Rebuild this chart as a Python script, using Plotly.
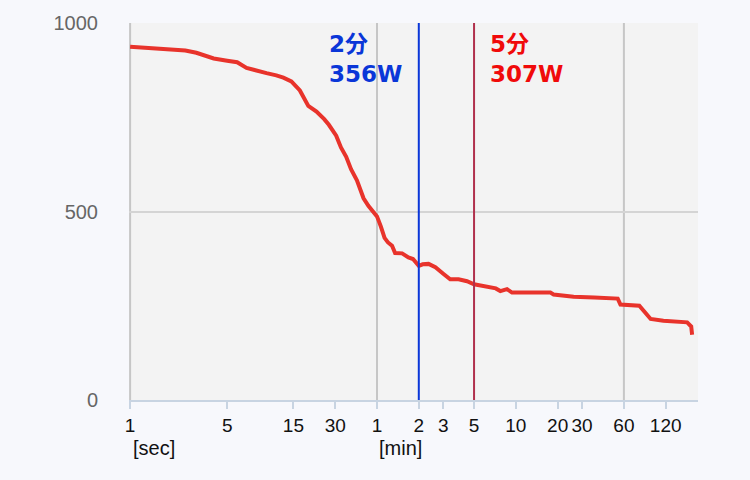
import math
import plotly.graph_objects as go

# ---- data ----
duration_sec = [1, 1.8, 2.5, 3.0, 3.5, 4.0, 5.0, 5.9, 6.9, 8.2, 9.6, 11.3, 12.7, 14.5,
                16.7, 19.2, 22, 25, 27, 30.5, 33, 36, 39, 43, 48, 52, 55, 60, 64, 68,
                72, 77, 81, 91, 101, 109, 120, 128, 141, 158, 180, 202, 232, 267, 300,
                350, 393, 430, 464, 490, 518, 563, 700, 850, 1064, 1122, 1563, 2200,
                3250, 3400, 4650, 5610, 6930, 10280, 10990, 11160]
power_w = [937, 931, 927, 921, 914, 906, 900, 896, 881, 875, 867, 861, 855, 845,
           821, 780, 765, 745, 730, 701, 670, 645, 612, 583, 535, 515, 505, 487, 460, 430,
           418, 409, 390, 389, 378, 374, 356, 360, 361, 352, 335, 320, 320, 315, 307,
           303, 299, 296, 289, 291, 294, 285, 285, 286, 285, 280, 274, 272,
           269, 253, 250, 215, 210, 206, 195, 173]

tick_vals = [1, 5, 15, 30, 60, 120, 180, 300, 600, 1200, 1800, 3600, 7200]
tick_text = ["1", "5", "15", "30", "1", "2", "3", "5", "10", "20", "30", "60", "120"]
grid_x = [1, 60, 3600]
y_ticks = [0, 500, 1000]

markers = [
    {"t": 120, "label": "2分<br>356W", "line": "#0a36d8", "text": "#0a36d8", "side": "left"},
    {"t": 300, "label": "5分<br>307W", "line": "#b0304c", "text": "#f00a0a", "side": "right"},
]
unit_labels = [("[sec]", 1), ("[min]", 60)]

fig = go.Figure()
fig.add_trace(go.Scatter(x=duration_sec, y=power_w, mode="lines",
                         line=dict(color="#e8332b", width=4), hoverinfo="skip",
                         showlegend=False))

shapes = []
for g in grid_x:
    shapes.append(dict(type="line", xref="x", yref="paper", x0=g, x1=g, y0=0, y1=1,
                       line=dict(color="#c6c6c6", width=2), layer="below"))
for m in markers:
    shapes.append(dict(type="line", xref="x", yref="paper", x0=m["t"], x1=m["t"], y0=0, y1=1,
                       line=dict(color=m["line"], width=2), layer="above"))

annotations = []
for m in markers:
    left = m["side"] == "left"
    annotations.append(dict(
        x=math.log10(m["t"]), y=1, xref="x", yref="paper",
        text="<b>" + m["label"] + "</b>", showarrow=False,
        xanchor="right" if left else "left", yanchor="top", align="left",
        xshift=-15 if left else 14, yshift=-6,
        font=dict(family="DejaVu Sans, Noto Sans CJK JP", size=23, color=m["text"])))
for txt, t in unit_labels:
    annotations.append(dict(
        x=math.log10(t), y=-0.127, xref="x", yref="paper", text=txt, showarrow=False,
        xanchor="left", yanchor="middle", xshift=1 if t == 1 else 0,
        font=dict(family="Liberation Sans, Arial", size=20, color="#111111")))

fig.update_layout(
    width=750, height=480,
    margin=dict(l=129, r=52, t=18, b=80),
    paper_bgcolor="#f7f8fc", plot_bgcolor="#f3f3f3",
    font=dict(family="Liberation Sans, Arial", size=19),
    shapes=shapes, annotations=annotations,
    xaxis=dict(type="log", range=[-0.008, 4.09], tickmode="array",
               tickvals=tick_vals, ticktext=tick_text, showgrid=False,
               ticks="outside", ticklen=7, tickwidth=2, tickcolor="#c8d4e2",
               showline=True, linecolor="#c8d4e2", linewidth=2,
               tickfont=dict(size=19, color="#111111"), zeroline=False),
    yaxis=dict(range=[0, 1000], tickmode="array", tickvals=y_ticks,
               showgrid=True, gridcolor="#d4d4d4", gridwidth=2, zeroline=False,
               ticks="outside", ticklen=26, tickcolor="rgba(0,0,0,0)",
               tickfont=dict(size=20, color="#666666"), showline=False),
)

fig.write_html("out.html", config={"displayModeBar": False},
               post_script="document.body.style.margin='0';"
                           "document.body.style.background='#f7f8fc';")
